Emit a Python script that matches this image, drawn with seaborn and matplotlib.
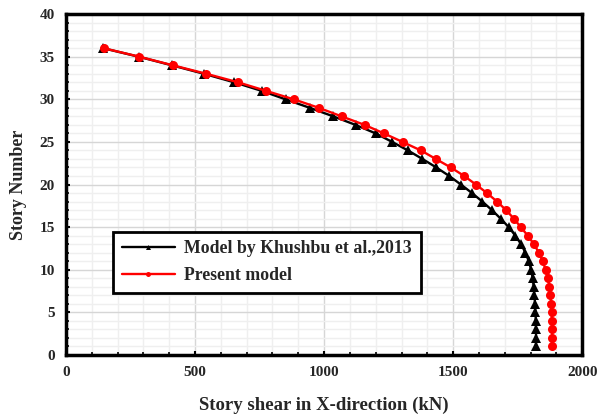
import matplotlib
matplotlib.use("Agg")
import matplotlib.pyplot as plt
from matplotlib.ticker import MultipleLocator
import seaborn as sns
import pandas as pd

# Story levels, top to bottom
stories = list(range(36, 0, -1))

# Story shear in X-direction (kN)
khushbu_shear = [145, 283, 410, 535, 652, 758, 851, 945, 1036, 1122, 1200, 1264,
                 1325, 1381, 1435, 1485, 1530, 1573, 1613, 1650, 1684, 1715, 1741,
                 1763, 1780, 1793, 1802, 1808, 1812, 1815, 1817, 1819, 1820, 1821,
                 1821, 1821]
present_shear = [147, 285, 414, 544, 667, 775, 883, 980, 1068, 1157, 1232, 1304,
                 1375, 1433, 1491, 1543, 1588, 1631, 1670, 1705, 1735, 1762, 1789,
                 1813, 1832, 1847, 1858, 1867, 1873, 1877, 1880, 1881, 1882, 1883,
                 1883, 1883]

series_names = ["Model by Khushbu et al.,2013", "Present model"]

df = pd.concat([
    pd.DataFrame({"shear": khushbu_shear, "story": stories, "model": series_names[0]}),
    pd.DataFrame({"shear": present_shear, "story": stories, "model": series_names[1]}),
])

sns.set_theme(style="white")
plt.rcParams["font.family"] = ["Liberation Serif", "DejaVu Serif"]
plt.rcParams["font.weight"] = "bold"

fig, ax = plt.subplots(figsize=(5.99, 4.17), dpi=100)
fig.subplots_adjust(left=0.110, right=0.972, bottom=0.149, top=0.966)

ax.set_xlim(0, 2000)
ax.set_ylim(0, 40)
ax.xaxis.set_major_locator(MultipleLocator(500))
ax.xaxis.set_minor_locator(MultipleLocator(100))
ax.yaxis.set_major_locator(MultipleLocator(5))
ax.yaxis.set_minor_locator(MultipleLocator(1))

ax.grid(which="minor", color="#efefef", linewidth=1.0)
ax.grid(which="major", color="#d6d6d6", linewidth=1.0)
ax.set_axisbelow(True)

sns.lineplot(data=df, x="shear", y="story", hue="model", style="model",
             palette={series_names[0]: "black", series_names[1]: "#ff0000"},
             markers={series_names[0]: "^", series_names[1]: "o"},
             dashes=False, sort=False, estimator=None, linewidth=1.7,
             markersize=6.5, markeredgewidth=0, ax=ax)

for side in ax.spines.values():
    side.set_visible(True)
    side.set_color("black")
    side.set_linewidth(2.5)

ax.tick_params(which="major", direction="in", length=3, width=1.5, color="black",
               labelsize=11, pad=8)
ax.tick_params(which="minor", direction="in", length=2, width=1.2, color="black")
ax.tick_params(axis="both", which="both", bottom=True, left=True, top=False, right=False)
for lbl in ax.get_xticklabels() + ax.get_yticklabels():
    lbl.set_fontweight("bold")

ax.set_xlabel("Story shear in X-direction (kN)", fontsize=13.5, fontweight="bold", labelpad=13)
ax.set_ylabel("Story Number", fontsize=13, fontweight="bold", labelpad=9)

handles, labels = ax.get_legend_handles_labels()
leg = ax.legend(handles, labels, loc="upper left", bbox_to_anchor=(0.091, 0.362),
                borderaxespad=0, frameon=True, fancybox=False, edgecolor="black",
                framealpha=1, prop={"size": 12.8, "weight": "bold"}, markerscale=0.55,
                handlelength=3.0, handletextpad=0.5, borderpad=0.5, labelspacing=0.55)
leg.get_frame().set_linewidth(2.0)

fig.savefig("out.png", dpi=100)
